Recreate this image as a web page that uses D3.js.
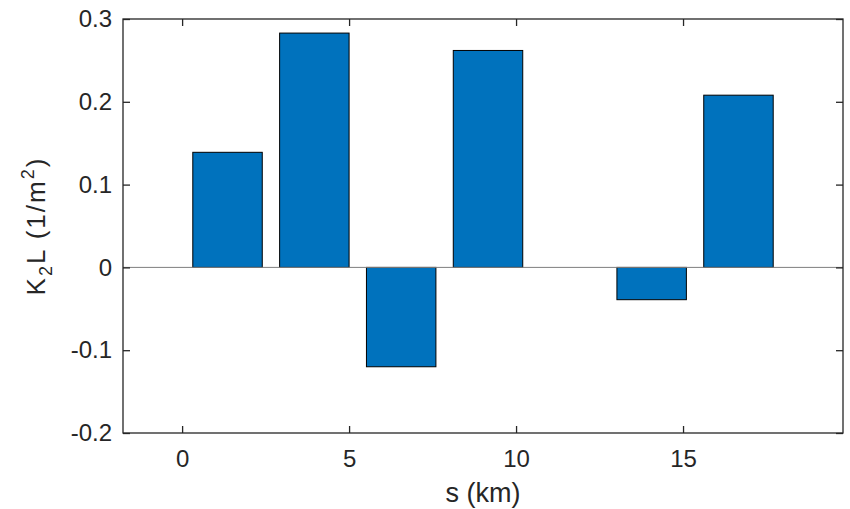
<!DOCTYPE html>
<html>
<head>
<meta charset="utf-8">
<script src="https://cdn.jsdelivr.net/npm/d3@7"></script>
<style>
  html, body { margin: 0; padding: 0; background: #fff; }
  svg { display: block; font-family: "Liberation Sans", Arial, Helvetica, sans-serif; }
</style>
</head>
<body>
<svg id="chart" width="850" height="509"></svg>
<script>
// Integrated quadrupole strength per element, along the line
const positions = [1.36, 3.96, 6.56, 9.16, 14.06, 16.66];   // s (km), bar centres
const strengths = [0.139, 0.283, -0.120, 0.262, -0.039, 0.208]; // K2L (1/m^2)
const barWidth = 2.08;                                       // in km
const xTicks = [0, 5, 10, 15];
const yTicks = [-0.2, -0.1, 0, 0.1, 0.2, 0.3];
const xDomain = [-1.77, 19.79];
const yDomain = [-0.2, 0.3];

const svg = d3.select("#chart");
const box = { left: 123, right: 843, top: 19, bottom: 433 };
const ink = "#262626";

const x = d3.scaleLinear().domain(xDomain).range([box.left, box.right]);
const y = d3.scaleLinear().domain(yDomain).range([box.bottom, box.top]);

const fmtY = d => d === 0 ? "0" : d.toFixed(1);

// bars
svg.append("g")
  .selectAll("rect")
  .data(positions.map((p, i) => ({ p, v: strengths[i] })))
  .join("rect")
  .attr("x", d => x(d.p - barWidth / 2))
  .attr("width", d => x(d.p + barWidth / 2) - x(d.p - barWidth / 2))
  .attr("y", d => y(Math.max(0, d.v)))
  .attr("height", d => Math.abs(y(d.v) - y(0)))
  .attr("fill", "#0072BD")
  .attr("stroke", "#000")
  .attr("stroke-width", 1);

// zero baseline
svg.append("line")
  .attr("x1", box.left).attr("x2", box.right)
  .attr("y1", y(0)).attr("y2", y(0))
  .attr("stroke", "#7f7f7f")
  .attr("stroke-width", 1);

function styleAxis(g, showLabels) {
  g.select(".domain").remove();
  g.selectAll(".tick line").attr("stroke", ink).attr("stroke-width", 1.3);
  g.selectAll(".tick text")
    .attr("fill", ink)
    .attr("font-size", 24)
    .attr("display", showLabels ? null : "none");
}

// bottom / top axes, ticks pointing inward
svg.append("g")
  .attr("transform", `translate(0,${box.bottom})`)
  .call(d3.axisBottom(x).tickValues(xTicks).tickFormat(d3.format("d")).tickSize(-7).tickPadding(17))
  .call(g => styleAxis(g, true));
svg.append("g")
  .attr("transform", `translate(0,${box.top})`)
  .call(d3.axisTop(x).tickValues(xTicks).tickSize(-7))
  .call(g => styleAxis(g, false));

// left / right axes
svg.append("g")
  .attr("transform", `translate(${box.left},0)`)
  .call(d3.axisLeft(y).tickValues(yTicks).tickFormat(fmtY).tickSize(-7).tickPadding(11))
  .call(g => styleAxis(g, true));
svg.append("g")
  .attr("transform", `translate(${box.right},0)`)
  .call(d3.axisRight(y).tickValues(yTicks).tickSize(-7))
  .call(g => styleAxis(g, false));

// axes box
svg.append("rect")
  .attr("x", box.left).attr("y", box.top)
  .attr("width", box.right - box.left).attr("height", box.bottom - box.top)
  .attr("fill", "none")
  .attr("stroke", ink)
  .attr("stroke-width", 1.3);

// axis titles
svg.append("text")
  .attr("x", (box.left + box.right) / 2)
  .attr("y", 502)
  .attr("text-anchor", "middle")
  .attr("fill", ink)
  .attr("font-size", 27)
  .text("s (km)");

const yTitle = svg.append("text")
  .attr("transform", `translate(45,${(box.top + box.bottom) / 2}) rotate(-90)`)
  .attr("text-anchor", "middle")
  .attr("fill", ink)
  .attr("font-size", 26)
  .attr("letter-spacing", 2);
yTitle.append("tspan").text("K");
yTitle.append("tspan").attr("font-size", 18).attr("dy", 7).text("2");
yTitle.append("tspan").attr("dy", -7).text("L (1/m");
yTitle.append("tspan").attr("font-size", 18).attr("dy", -11).text("2");
yTitle.append("tspan").attr("dy", 11).text(")");
</script>
</body>
</html>
